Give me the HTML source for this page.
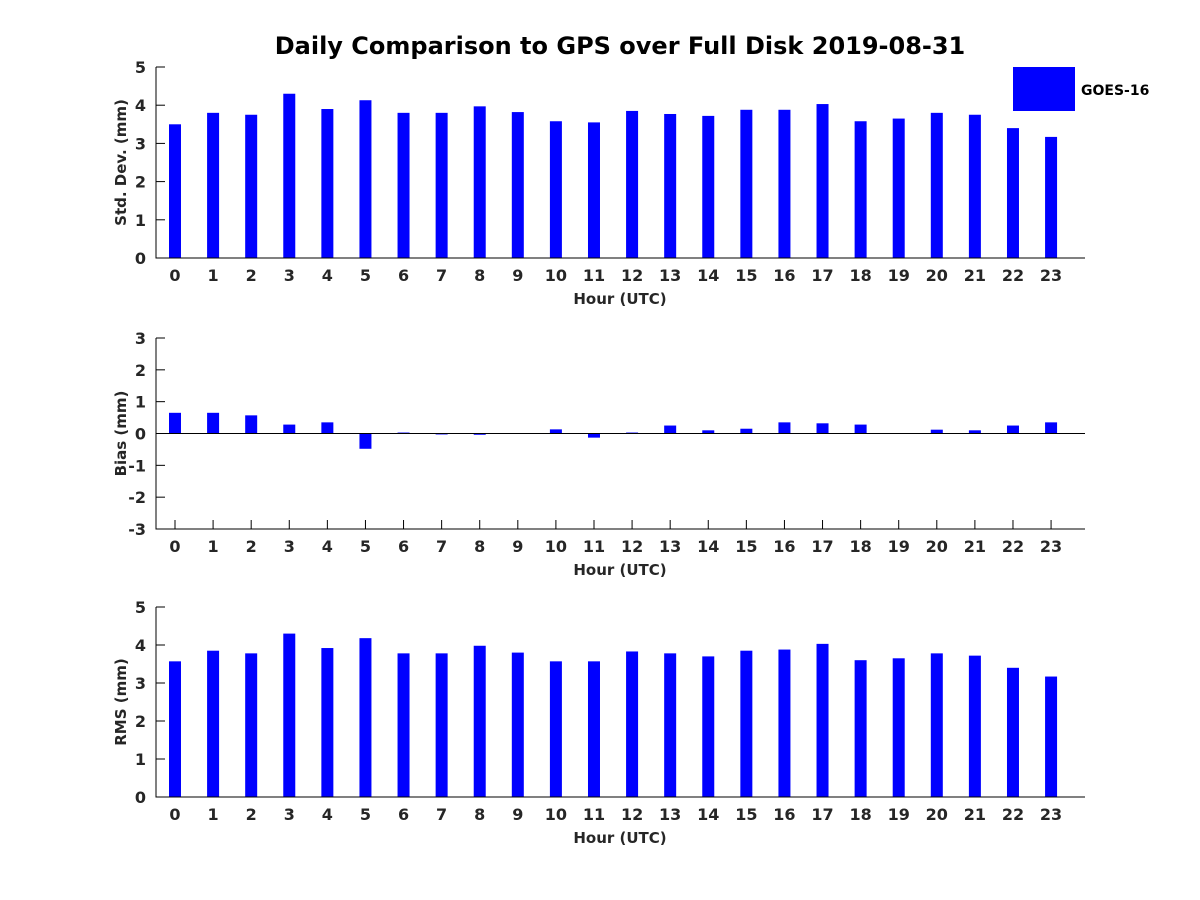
<!DOCTYPE html>
<html><head><meta charset="utf-8"><style>
body{margin:0;background:#fff}
svg{display:block;font-family:"DejaVu Sans","Liberation Sans",sans-serif;font-weight:bold}
</style></head><body>
<svg id="chart" width="1200" height="900" xmlns="http://www.w3.org/2000/svg">
<text x="620" y="54" text-anchor="middle" font-size="24" fill="#000">Daily Comparison to GPS over Full Disk 2019-08-31</text>
<g>
<rect x="1013" y="67" width="62" height="44" fill="#0000ff"/>
<text x="1081" y="95" font-size="14" fill="#000">GOES-16</text>
</g>
</svg>
<script>
const hours=[0,1,2,3,4,5,6,7,8,9,10,11,12,13,14,15,16,17,18,19,20,21,22,23];
const stdDev=[3.5,3.8,3.75,4.3,3.9,4.13,3.8,3.8,3.97,3.82,3.58,3.55,3.85,3.77,3.72,3.88,3.88,4.03,3.58,3.65,3.8,3.75,3.4,3.17];
const bias=[0.65,0.65,0.57,0.28,0.35,-0.48,0.03,-0.03,-0.04,-0.01,0.13,-0.13,0.03,0.25,0.1,0.15,0.35,0.32,0.28,0,0.12,0.1,0.25,0.35];
const rms=[3.57,3.85,3.78,4.3,3.92,4.18,3.78,3.78,3.98,3.8,3.57,3.57,3.83,3.78,3.7,3.85,3.88,4.03,3.6,3.65,3.78,3.72,3.4,3.17];
const stdTicks=[0,1,2,3,4,5];
const biasTicks=[-3,-2,-1,0,1,2,3];
const rmsTicks=[0,1,2,3,4,5];
const NS='http://www.w3.org/2000/svg';
const svg=document.getElementById('chart');
function mk(tag,attrs,parent){const e=document.createElementNS(NS,tag);for(const k in attrs)e.setAttribute(k,attrs[k]);(parent||svg).appendChild(e);return e;}
const X0=156,X1=1085;
function xs(h){return 175+h*38.09;}
function panel(name,top,bottom,ymin,ymax,ticks,vals,ylabel){
  const g=mk('g',{});
  
  
  const ys=v=>bottom-(v-ymin)/(ymax-ymin)*(bottom-top);
  hours.forEach(h=>{
    const x=xs(h);
    mk('line',{x1:x,x2:x,y1:bottom,y2:bottom-9,stroke:'#000'},g);
    const tx=mk('text',{x:x,y:bottom+23,'text-anchor':'middle','font-size':16,fill:'#262626'},g);
    tx.textContent=h;
    
    
  });
  vals.forEach((v,i)=>{
    const y0=ys(0),y1=ys(v);
    const r=mk('rect',{x:xs(hours[i])-6,y:Math.min(y0,y1),width:12,height:Math.max(Math.abs(y1-y0),0.5),fill:'#0000ff'},g);
    
    
  });
  if(ymin<0){const z=mk('line',{x1:X0,x2:X1,y1:ys(0),y2:ys(0),stroke:'#000','stroke-width':1},g);
    }
  const ax=mk('path',{d:`M${X0} ${top}V${bottom}H${X1}`,fill:'none',stroke:'#000','stroke-width':1},g);
  
  
  ticks.forEach(t=>{
    const y=ys(t);
    mk('line',{x1:X0,x2:X0+9,y1:y,y2:y,stroke:'#000'},g);
    const tx=mk('text',{x:X0-10,y:y+6,'text-anchor':'end','font-size':16,fill:'#262626'},g);
    tx.textContent=t;
    
    
  });
  const xl=mk('text',{x:620,y:bottom+46,'text-anchor':'middle','font-size':15,fill:'#262626'},g);
  xl.textContent='Hour (UTC)';
  
  
  const cy=(top+bottom)/2;
  const yl=mk('text',{x:126,y:cy,'text-anchor':'middle','font-size':15,fill:'#262626',transform:`rotate(-90 126 ${cy})`},g);
  yl.textContent=ylabel;
  
  
}
panel('std-dev',67,258,0,5,stdTicks,stdDev,'Std. Dev. (mm)');
panel('bias',338,529,-3,3,biasTicks,bias,'Bias (mm)');
panel('rms',607,797,0,5,rmsTicks,rms,'RMS (mm)');
</script>
</body></html>
